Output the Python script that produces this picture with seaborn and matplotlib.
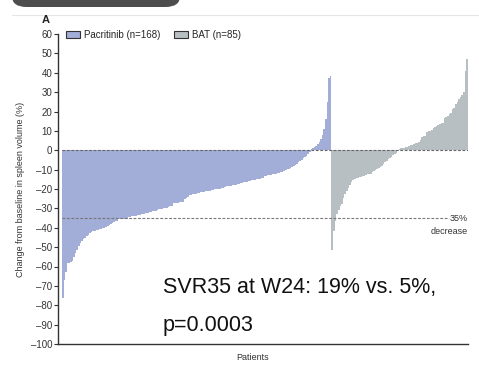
import matplotlib
matplotlib.use("Agg")
import matplotlib.pyplot as plt
from matplotlib.patches import Patch, FancyBboxPatch
from matplotlib.lines import Line2D
import numpy as np
import pandas as pd
import seaborn as sns

# Best change in spleen volume per patient, sorted within each arm
pacritinib = [
    -76, -67, -63, -58, -58, -57.5, -57, -55, -53, -51.5,
    -49.5, -48, -47, -46, -45.5, -44.5, -43.5, -42.5, -42, -41.5,
    -41.5, -41, -41, -40.5, -40.5, -40, -40, -39.5, -39, -38.5,
    -38, -37.5, -37, -36.5, -36.5,
    -35.5, -35.5, -35.5, -35.5, -35.5, -35.5,
    -34.5, -34.5, -34, -34, -34, -34, -33.5, -33.5,
    -33, -33, -33, -32.5, -32.5,
    -32, -32, -31.5, -31.5, -31.5, -31,
    -30.5, -30.5, -30.5, -30, -30, -30,
    -29.5, -29, -29,
    -27, -27, -27, -27, -26.5, -26.5, -26.5,
    -25, -24.5, -24,
    -23, -23, -22.5, -22.5, -22.5, -22, -22,
    -21.5, -21.5, -21.5, -21, -21, -21, -21,
    -20.5, -20.5, -20, -20, -20, -20, -19.5, -19.5,
    -19, -18.5, -18.5, -18.5, -18.5, -18, -18, -18, -17.5, -17.5,
    -17, -17, -16.5, -16.5, -16.5, -16, -16,
    -15.5, -15.5, -15.5, -15, -15, -15, -14.5, -14.5,
    -13.5, -13.5, -13, -13, -13, -12.5, -12.5, -12,
    -11.5, -11.5, -11, -11, -10.5,
    -10, -9.5, -9.5, -9, -8.5,
    -8, -7.5, -7,
    -6, -5.5, -5,
    -4, -3.5, -3,
    -2, -1,
    0.5, 1, 1.5, 2, 3, 4.5, 6, 8, 11, 16, 25, 37.5, 38.5,
]

bat = [
    -51.5, -41.5, -36.5, -33, -31, -29, -27.5, -24.5, -22.5, -21,
    -19.5, -18, -16.5, -15.5, -15, -14.5, -14.5, -14, -14, -13.5,
    -13.5, -13, -12.5, -12, -12, -11, -10.5, -10, -9.5, -9,
    -8.5, -8, -7, -6, -5.5, -4.5, -4, -3.5, -2.5, -2,
    -1.5, -0.5, 0.5, 1, 1, 1, 1.5, 1.5, 2, 2.5,
    2.5, 3, 3.5, 4, 4.5, 5.5, 7, 7.5, 7.5, 9.5,
    10, 10, 10.5, 11.5, 12, 12.5, 13, 13.5, 14, 14,
    16.5, 17, 17.5, 18.5, 19, 21.5, 22, 24, 25, 26.5,
    27.5, 28.5, 30, 41, 47,
]

arm_labels = ["Pacritinib (n=168)", "BAT (n=85)"]
arm_colors = ["#A2ADD8", "#B7BFC3"]
y_ticks = list(range(-100, 61, 10))
y_label = "Change from baseline in spleen volume (%)"
x_label = "Patients"
threshold = -35
threshold_text = ["35%", "decrease"]
summary_lines = ["SVR35 at W24: 19% vs. 5%,", "p=0.0003"]

df = pd.DataFrame({
    "patient": np.arange(len(pacritinib) + len(bat)),
    "change": pacritinib + bat,
    "arm": [arm_labels[0]] * len(pacritinib) + [arm_labels[1]] * len(bat),
})

W, H = 479, 366
sns.set_theme(style="white")
plt.rcParams["font.family"] = ["Liberation Sans Narrow", "Liberation Sans", "DejaVu Sans"]
fig = plt.figure(figsize=(W / 100, H / 100), dpi=100)

def fx(px):
    return px / W

def fy(py):
    return 1 - py / H

ax = fig.add_axes([fx(58), fy(344), fx(468) - fx(58), fy(34) - fy(344)])

sns.barplot(
    data=df, x="patient", y="change", hue="arm",
    palette=dict(zip(arm_labels, arm_colors)),
    dodge=False, width=1.0, linewidth=0, saturation=1,
    errorbar=None, legend=False, ax=ax,
)

n = len(df)
ax.set_xlim(-3, n - 0.4)
ax.set_ylim(-100, 60)
ax.set_yticks(y_ticks)
ax.set_yticklabels([str(t).replace("-", "\u2013") for t in y_ticks], fontsize=7, color="#333333")
ax.set_xticks([])
ax.tick_params(axis="y", direction="out", length=3, width=0.8, color="#333333", pad=1, left=True)
for side in ["top", "right"]:
    ax.spines[side].set_visible(False)
for side in ["left", "bottom"]:
    ax.spines[side].set_color("#333333")
    ax.spines[side].set_linewidth(1.0)

ax.set_ylabel(y_label, fontsize=6.5, color="#333333", labelpad=4)
ax.set_xlabel(x_label, fontsize=6.5, color="#333333")
ax.xaxis.set_label_coords((253 - 58) / (468 - 58), -0.03)

# Reference lines at no change and at the 35% reduction threshold
ax.axhline(0, xmin=0.01, xmax=1.0, color="#666666", lw=0.8, ls=(0, (2.5, 1.5)), zorder=3)
ax.plot([-0.5, 241], [threshold, threshold], color="#777777", lw=0.8, ls=(0, (2.5, 1.5)), zorder=3)
ax.text(n - 0.6, threshold, threshold_text[0], ha="right", va="center", fontsize=6.5, color="#333333")
ax.text(n - 0.6, threshold - 4.5, threshold_text[1], ha="right", va="top", fontsize=6.5, color="#333333")

# Legend
handles = [Patch(facecolor=c, edgecolor="#333333", linewidth=0.8) for c in arm_colors]
fig.legend(handles, arm_labels, loc="center left", bbox_to_anchor=(fx(66), fy(35)),
           ncol=2, frameon=False, fontsize=7, handlelength=1.4, handleheight=0.8,
           handletextpad=0.4, columnspacing=1.5, borderaxespad=0, borderpad=0)

# Panel letter and header band
fig.text(fx(46), fy(20), "A", fontsize=8, fontweight="bold", ha="center", va="center", color="#222222")
fig.add_artist(Line2D([fx(12), fx(479)], [fy(15), fy(15)], color="#E6E6E6", lw=0.8))
fig.add_artist(FancyBboxPatch((fx(12), fy(7)), fx(168), fy(-20) - fy(7),
                              boxstyle="round,pad=0,rounding_size=0.03",
                              facecolor="#4D4D4D", edgecolor="none", transform=fig.transFigure))

# Summary statistic
fig.text(fx(163), fy(293), summary_lines[0], fontsize=15.5, family="Liberation Sans",
         ha="left", va="baseline", color="#111111")
fig.text(fx(163), fy(331), summary_lines[1], fontsize=15.5, family="Liberation Sans",
         ha="left", va="baseline", color="#111111")

fig.savefig("out.png", dpi=100)
